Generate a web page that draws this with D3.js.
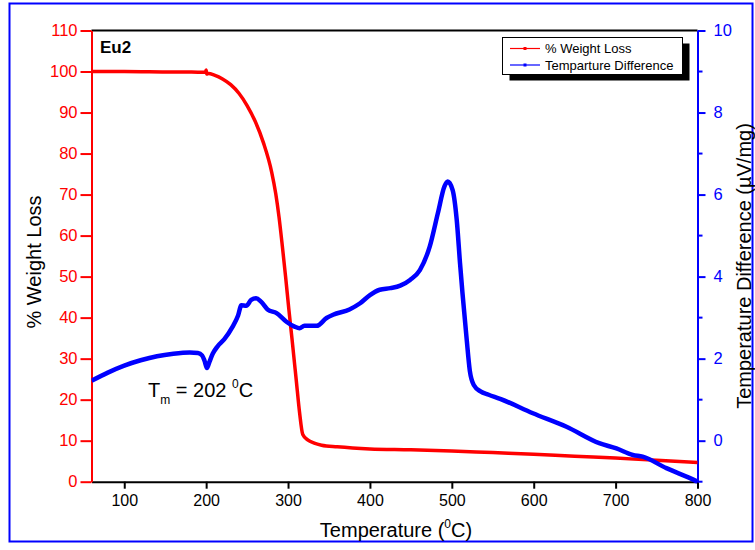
<!DOCTYPE html>
<html>
<head>
<meta charset="utf-8">
<script src="https://cdn.jsdelivr.net/npm/d3@7"></script>
<style>
  body { margin: 0; background: #fff; }
  svg { display: block; font-family: "Liberation Sans", Arial, sans-serif; }
</style>
</head>
<body>
<svg id="chart" width="755" height="550"></svg>
<script>
// ---------- data ----------
const weightTemp = [60, 100, 150, 190, 199, 200, 200.6, 203, 210, 220, 230, 240, 250, 260, 270, 280, 285, 289, 293, 297, 301, 305, 310, 314, 318, 324, 332, 341, 360, 400, 450, 500, 550, 600, 650, 700, 750, 800];
const weightLoss = [100, 100, 99.9, 99.85, 99.8, 100.4, 99.4, 99.5, 99.1, 98.2, 96.8, 94.7, 91.7, 87.8, 82.6, 75.5, 70.2, 64.5, 57.5, 50, 42, 34.5, 24.8, 17, 11.5, 10.2, 9.4, 8.9, 8.5, 8.0, 7.8, 7.5, 7.1, 6.7, 6.2, 5.75, 5.2, 4.7];

const dtaTemp = [60, 80, 100, 120, 140, 160, 180, 190, 195, 198, 201, 204, 208, 214, 222, 232, 239, 243, 249, 255, 261, 267, 275, 286, 298, 308, 314, 320, 335, 347, 355, 375, 388, 400, 412, 425, 437, 449, 461, 473, 483, 491, 495, 501, 506, 510, 513, 518, 522, 527, 535, 545, 559, 599, 640, 680, 701, 721, 733, 762, 798, 800];
const dtaValue = [1.46, 1.66, 1.83, 1.96, 2.06, 2.12, 2.15, 2.14, 2.08, 1.95, 1.77, 1.92, 2.12, 2.3, 2.47, 2.77, 3.05, 3.3, 3.29, 3.43, 3.47, 3.39, 3.2, 3.11, 2.9, 2.78, 2.74, 2.8, 2.8, 2.99, 3.07, 3.2, 3.35, 3.55, 3.68, 3.72, 3.78, 3.92, 4.16, 4.73, 5.55, 6.2, 6.32, 6.11, 5.38, 4.33, 3.6, 2.5, 1.7, 1.35, 1.2, 1.12, 1.02, 0.67, 0.34, -0.06, -0.19, -0.35, -0.39, -0.67, -0.98, -1.0];

const xTicks = [100, 200, 300, 400, 500, 600, 700, 800];
const yLeftTicks = [0, 10, 20, 30, 40, 50, 60, 70, 80, 90, 100, 110];
const yRightTicks = [0, 2, 4, 6, 8, 10];
const yRightMinor = [-1, 1, 3, 5, 7, 9];
const seriesNames = ["% Weight Loss", "Temparture Difference"];

// ---------- layout ----------
const svg = d3.select("#chart");
const L = 91.5, R = 697.5, T = 30.5, B = 481.7;
const RED = "#ff0000", BLUE = "#0000ff";

const x = d3.scaleLinear().domain([60, 800]).range([L, R]);
const yL = d3.scaleLinear().domain([0, 110]).range([B, T]);
const yR = d3.scaleLinear().domain([-1, 10]).range([B, T]);

// outer blue frame
svg.append("rect").attr("x", 9.5).attr("y", 3.5).attr("width", 743).attr("height", 538)
  .attr("fill", "none").attr("stroke", BLUE).attr("stroke-width", 2);

// top frame line
svg.append("line").attr("x1", L).attr("x2", R).attr("y1", T).attr("y2", T)
  .attr("stroke", "#000").attr("stroke-width", 2);

// x axis
const gx = svg.append("g").attr("transform", `translate(0,${B})`)
  .call(d3.axisBottom(x).tickValues(xTicks).tickSize(7).tickSizeOuter(0).tickPadding(6));
gx.select(".domain").attr("stroke", "#000").attr("stroke-width", 2);
gx.selectAll(".tick line").attr("stroke", "#000").attr("stroke-width", 2);
gx.selectAll(".tick text").attr("font-size", 16).attr("fill", "#000")
  .attr("font-family", "Liberation Sans, Arial, sans-serif");

// left axis
const gl = svg.append("g").attr("transform", `translate(${L},0)`)
  .call(d3.axisLeft(yL).tickValues(yLeftTicks).tickSize(11).tickSizeOuter(0).tickPadding(3));
gl.select(".domain").attr("stroke", RED).attr("stroke-width", 2);
gl.selectAll(".tick line").attr("stroke", RED).attr("stroke-width", 2);
gl.selectAll(".tick text").attr("font-size", 16.5).attr("fill", RED)
  .attr("font-family", "Liberation Sans, Arial, sans-serif");

// right axis
const gr = svg.append("g").attr("transform", `translate(${R},0)`)
  .call(d3.axisRight(yR).tickValues(yRightTicks).tickSize(8).tickSizeOuter(0).tickPadding(8));
gr.select(".domain").attr("stroke", BLUE).attr("stroke-width", 2);
gr.selectAll(".tick line").attr("stroke", BLUE).attr("stroke-width", 2);
gr.selectAll(".tick text").attr("font-size", 16.5).attr("fill", BLUE)
  .attr("font-family", "Liberation Sans, Arial, sans-serif");
gr.selectAll(".minor").data(yRightMinor).enter().append("line")
  .attr("x1", 0).attr("x2", 5).attr("y1", d => yR(d)).attr("y2", d => yR(d))
  .attr("stroke", BLUE).attr("stroke-width", 2);

// axis titles
svg.append("text").attr("transform", `translate(41,262) rotate(-90)`)
  .attr("text-anchor", "middle").attr("font-size", 20).attr("fill", "#000").text("% Weight Loss");
svg.append("text").attr("transform", `translate(751,266) rotate(-90)`)
  .attr("text-anchor", "middle").attr("font-size", 20).attr("fill", "#000")
  .text("Temperature Difference (\u00B5V/mg)");
const xt = svg.append("text").attr("x", 396).attr("y", 537).attr("text-anchor", "middle")
  .attr("font-size", 20).attr("fill", "#000");
xt.append("tspan").text("Temperature (");
xt.append("tspan").attr("font-size", 12).attr("dy", -9).text("0");
xt.append("tspan").attr("dy", 9).text("C)");

// clip
svg.append("clipPath").attr("id", "clip").append("rect")
  .attr("x", L).attr("y", T - 5).attr("width", R - L + 3).attr("height", B - T + 8);

// curves
const redData = weightTemp.map((t, i) => [t, weightLoss[i]]);
const blueData = dtaTemp.map((t, i) => [t, dtaValue[i]]);

svg.append("path").datum(redData)
  .attr("d", d3.line().x(d => x(d[0])).y(d => yL(d[1])).curve(d3.curveMonotoneX))
  .attr("fill", "none").attr("stroke", RED).attr("stroke-width", 3.5)
  .attr("stroke-linejoin", "round").attr("clip-path", "url(#clip)");

svg.append("path").datum(blueData)
  .attr("d", d3.line().x(d => x(d[0])).y(d => yR(d[1])).curve(d3.curveMonotoneX))
  .attr("fill", "none").attr("stroke", BLUE).attr("stroke-width", 4.5)
  .attr("stroke-linejoin", "round").attr("clip-path", "url(#clip)");

// Eu2 label
svg.append("text").attr("x", 100).attr("y", 53).attr("font-size", 17).attr("font-weight", "bold")
  .attr("fill", "#000").text("Eu2");

// annotation
const an = svg.append("text").attr("x", 148).attr("y", 397).attr("font-size", 20).attr("fill", "#000");
an.append("tspan").text("T");
an.append("tspan").attr("font-size", 12).attr("dy", 7).text("m");
an.append("tspan").attr("dy", -7).text(" = 202 ");
an.append("tspan").attr("font-size", 12).attr("dy", -9).text("0");
an.append("tspan").attr("dy", 9).text("C");

// legend
const lg = svg.append("g");
lg.append("rect").attr("x", 509.5).attr("y", 43.5).attr("width", 180).attr("height", 37).attr("fill", "#000");
lg.append("rect").attr("x", 502.5).attr("y", 37.5).attr("width", 180).attr("height", 37)
  .attr("fill", "#fff").attr("stroke", "#000").attr("stroke-width", 1);
const legendColors = [RED, BLUE];
seriesNames.forEach((name, i) => {
  const yy = 48.5 + i * 16.5;
  lg.append("line").attr("x1", 510).attr("x2", 540).attr("y1", yy).attr("y2", yy)
    .attr("stroke", legendColors[i]).attr("stroke-width", 1.2);
  lg.append("rect").attr("x", 523.5).attr("y", yy - 1.5).attr("width", 3).attr("height", 3)
    .attr("fill", legendColors[i]);
  lg.append("text").attr("x", 545).attr("y", yy + 4.8).attr("font-size", 13).attr("fill", "#000").text(name);
});
</script>
</body>
</html>
